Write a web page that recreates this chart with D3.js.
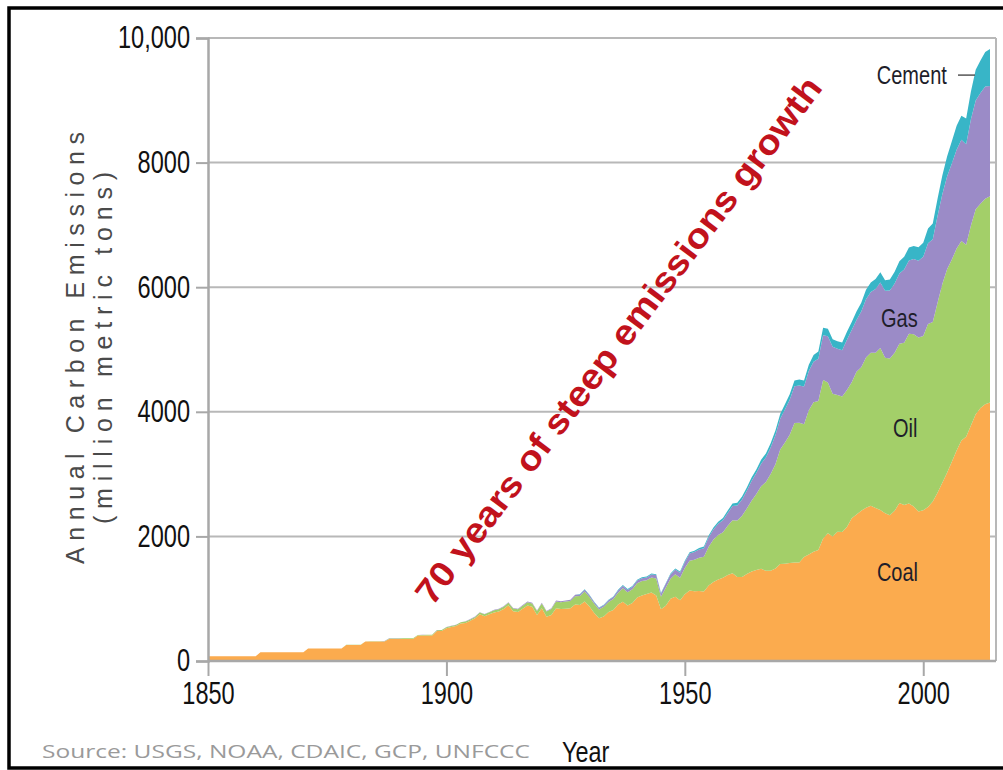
<!DOCTYPE html>
<html>
<head>
<meta charset="utf-8">
<script src="https://cdn.jsdelivr.net/npm/d3@7"></script>
<style>
  body { margin: 0; background: #fff; }
  svg { display: block; }
</style>
</head>
<body>
<script>
// Annual carbon emissions by fuel, million metric tons, 1850-2014
const years = d3.range(1850, 2015);

const coal = [
  75, 75, 75, 75, 75, 75, 75, 75, 75, 75,
  75, 140, 140, 140, 140, 140, 140, 140, 140, 140,
  140, 200, 200, 200, 200, 200, 200, 200, 200, 258,
  258, 258, 258, 312, 312, 312, 312, 312, 355, 355,
  355, 355, 355, 355, 408, 408, 408, 408, 482, 482,
  525, 545, 560, 600, 610, 645, 685, 750, 720, 750,
  780, 795, 835, 895, 800, 785, 840, 890, 870, 740,
  845, 710, 740, 845, 835, 840, 845, 905, 900, 955,
  875, 770, 685, 715, 785, 820, 905, 950, 890, 930,
  1020, 1050, 1075, 1100, 1050, 830, 885, 1000, 1030, 975,
  1070, 1130, 1120, 1125, 1115, 1210, 1270, 1310, 1335, 1380,
  1410, 1350, 1350, 1395, 1435, 1460, 1480, 1450, 1450, 1485,
  1555, 1560, 1575, 1580, 1580, 1670, 1710, 1755, 1780, 1965,
  2050, 2000, 2075, 2070, 2150, 2290, 2350, 2410, 2460, 2490,
  2455, 2425, 2370, 2340, 2410, 2535, 2505, 2530, 2480, 2400,
  2420, 2470, 2560, 2700, 2860, 3020, 3200, 3380, 3540, 3600,
  3780, 3960, 4060, 4120, 4150
];

const oil = [
  0, 0, 0, 0, 0, 0, 0, 0, 0, 0,
  0, 0, 0, 0, 0, 0, 0, 0, 0, 0,
  1, 1, 1, 1, 1, 1, 1, 2, 2, 3,
  3, 4, 4, 3, 4, 4, 5, 5, 5, 6,
  8, 9, 9, 10, 9, 11, 12, 13, 13, 14,
  16, 18, 19, 20, 23, 23, 23, 28, 30, 32,
  34, 36, 37, 41, 42, 45, 48, 54, 53, 61,
  78, 84, 94, 111, 110, 116, 119, 136, 143, 160,
  152, 147, 141, 154, 162, 176, 192, 219, 214, 222,
  229, 236, 222, 239, 275, 200, 292, 322, 364, 362,
  423, 479, 504, 533, 557, 625, 679, 714, 731, 789,
  849, 904, 980, 1052, 1137, 1219, 1323, 1423, 1551, 1673,
  1839, 1947, 2057, 2241, 2245, 2132, 2314, 2398, 2392, 2544,
  2422, 2289, 2196, 2176, 2199, 2186, 2293, 2306, 2412, 2459,
  2492, 2601, 2499, 2515, 2539, 2558, 2604, 2723, 2763, 2792,
  2798, 2940, 2880, 3050, 3190, 3270, 3245, 3240, 3200, 3080,
  3210, 3290, 3280, 3300, 3310
];

const gas = [
  0, 0, 0, 0, 0, 0, 0, 0, 0, 0,
  0, 0, 0, 0, 0, 0, 0, 0, 0, 0,
  0, 0, 0, 0, 0, 0, 0, 0, 0, 0,
  0, 0, 0, 0, 0, 1, 2, 3, 5, 3,
  3, 2, 2, 2, 2, 2, 2, 2, 2, 3,
  3, 4, 4, 4, 4, 5, 5, 5, 5, 6,
  7, 7, 8, 8, 8, 9, 10, 11, 10, 10,
  11, 10, 11, 14, 16, 17, 19, 21, 23, 28,
  28, 25, 24, 25, 28, 30, 34, 38, 37, 38,
  42, 42, 45, 50, 54, 50, 61, 67, 76, 81,
  97, 115, 124, 131, 138, 150, 161, 178, 192, 206,
  227, 240, 263, 286, 316, 337, 364, 392, 424, 467,
  493, 530, 560, 588, 597, 604, 630, 650, 680, 721,
  740, 756, 740, 741, 808, 836, 830, 893, 936, 972,
  1026, 1051, 1075, 1094, 1112, 1127, 1176, 1177, 1209, 1232,
  1269, 1294, 1329, 1393, 1443, 1487, 1540, 1588, 1625, 1616,
  1704, 1748, 1779, 1800, 1770
];

const cement = [
  0, 0, 0, 0, 0, 0, 0, 0, 0, 0,
  0, 0, 0, 0, 0, 0, 0, 0, 0, 0,
  0, 0, 0, 0, 0, 0, 0, 0, 0, 0,
  0, 0, 0, 0, 0, 0, 0, 0, 0, 0,
  0, 0, 0, 0, 0, 0, 0, 0, 0, 0,
  0, 0, 0, 0, 0, 0, 0, 0, 0, 0,
  0, 0, 0, 0, 0, 0, 0, 0, 0, 0,
  0, 0, 0, 0, 0, 0, 0, 0, 10, 10,
  10, 9, 8, 9, 10, 11, 13, 14, 14, 15,
  15, 16, 15, 14, 12, 10, 12, 14, 16, 17,
  18, 20, 22, 24, 27, 30, 32, 34, 36, 40,
  43, 45, 49, 51, 57, 59, 63, 65, 70, 74,
  78, 84, 89, 95, 96, 95, 103, 108, 116, 119,
  120, 121, 121, 125, 128, 131, 137, 143, 152, 156,
  157, 161, 167, 176, 186, 197, 203, 209, 209, 217,
  226, 237, 252, 276, 298, 320, 356, 382, 388, 413,
  446, 494, 519, 554, 595
];

const fuels = ['Coal', 'Oil', 'Gas', 'Cement'];
const fuelColors = ['#FBAB4E', '#A3CF69', '#9B8BC7', '#38B5C7'];
const yTicks = [0, 2000, 4000, 6000, 8000, 10000];
const xTicks = [1850, 1900, 1950, 2000];

const width = 1003;
const height = 770;
const sans = '"Liberation Sans", Arial, sans-serif';

// squeeze a text horizontally, like a narrow font
function narrow(sel, k) {
  sel.each(function () {
    const w = this.getComputedTextLength();
    d3.select(this)
      .attr('textLength', w * k)
      .attr('lengthAdjust', 'spacingAndGlyphs');
  });
}

const svg = d3.select('body')
  .append('svg')
  .attr('width', width)
  .attr('height', height);

// Outer frame
svg.append('rect')
  .attr('x', 9)
  .attr('y', 8)
  .attr('width', 1010)
  .attr('height', 760)
  .attr('fill', 'none')
  .attr('stroke', '#000')
  .attr('stroke-width', 3.5);

const x = d3.scaleLinear().domain([1850, 2014]).range([208, 990]);
const y = d3.scaleLinear().domain([0, 10000]).range([661, 38]);

// Gridlines
svg.append('g')
  .selectAll('line')
  .data(yTicks.filter(d => d > 0))
  .join('line')
  .attr('x1', x(1850))
  .attr('x2', 996)
  .attr('y1', d => y(d))
  .attr('y2', d => y(d))
  .attr('stroke', '#b8b8b8')
  .attr('stroke-width', 2);

// Right edge of plot
svg.append('line')
  .attr('x1', 996).attr('x2', 996)
  .attr('y1', y(10000)).attr('y2', y(0))
  .attr('stroke', '#b8b8b8')
  .attr('stroke-width', 2);

// Stacked areas
const rows = years.map((yr, i) => ({
  year: yr, Coal: coal[i], Oil: oil[i], Gas: gas[i], Cement: cement[i]
}));
const series = d3.stack().keys(fuels)(rows);

const area = d3.area()
  .x(d => x(d.data.year))
  .y0(d => y(d[0]))
  .y1(d => y(d[1]));

svg.append('g')
  .selectAll('path')
  .data(series)
  .join('path')
  .attr('d', area)
  .attr('fill', (d, i) => fuelColors[i]);

// Y axis
const yAxis = svg.append('g')
  .attr('transform', `translate(${x(1850)},0)`)
  .call(d3.axisLeft(y)
    .tickValues(yTicks)
    .tickSize(12)
    .tickPadding(6)
    .tickFormat(d => d === 10000 ? '10,000' : d));

// X axis
const xAxis = svg.append('g')
  .attr('transform', `translate(0,${y(0)})`)
  .call(d3.axisBottom(x)
    .tickValues(xTicks)
    .tickSize(15)
    .tickPadding(4)
    .tickFormat(d3.format('d')));

xAxis.select('.domain').attr('d', `M${x(1850)},0H996`);

[yAxis, xAxis].forEach(ax => {
  ax.select('.domain').attr('stroke', '#a8a8a8').attr('stroke-width', 2.5);
  ax.selectAll('.tick line').attr('stroke', '#a8a8a8').attr('stroke-width', 2);
  ax.selectAll('.tick text')
    .attr('fill', '#111')
    .style('font-family', sans)
    .style('font-size', '31px')
    .call(narrow, 0.76);
});

xAxis.selectAll('.tick text').attr('dy', '0.76em');

// Y axis title
const yTitle = svg.append('g')
  .attr('transform', 'translate(84,348) rotate(-90)')
  .attr('fill', '#4a4a4a')
  .style('font-family', sans)
  .style('font-size', '25px');

yTitle.append('text')
  .attr('text-anchor', 'middle')
  .attr('textLength', 432)
  .attr('lengthAdjust', 'spacing')
  .text('Annual Carbon Emissions');

yTitle.append('text')
  .attr('y', 28)
  .attr('text-anchor', 'middle')
  .attr('textLength', 352)
  .attr('lengthAdjust', 'spacing')
  .text('(million metric tons)');

// Fuel labels
const fuelLabels = [
  { name: 'Cement', year: 1997.6, value: 9260 },
  { name: 'Gas', year: 1995, value: 5360 },
  { name: 'Oil', year: 1996.2, value: 3600 },
  { name: 'Coal', year: 1994.6, value: 1290 }
];

svg.append('g')
  .selectAll('text')
  .data(fuelLabels)
  .join('text')
  .attr('x', d => x(d.year))
  .attr('y', d => y(d.value))
  .attr('text-anchor', 'middle')
  .attr('fill', '#1e1e2a')
  .style('font-family', sans)
  .style('font-size', '25px')
  .text(d => d.name)
  .call(narrow, 0.8);

svg.append('line')
  .attr('x1', 958).attr('x2', 975)
  .attr('y1', y(9260) - 9).attr('y2', y(9260) - 9)
  .attr('stroke', '#555')
  .attr('stroke-width', 1.5);

// Annotation
svg.append('text')
  .attr('transform', 'translate(618,340) rotate(-53)')
  .attr('text-anchor', 'middle')
  .attr('dominant-baseline', 'central')
  .attr('textLength', 650)
  .attr('lengthAdjust', 'spacingAndGlyphs')
  .attr('fill', '#C1121C')
  .style('font-family', sans)
  .style('font-weight', 'bold')
  .style('font-size', '35px')
  .text('70 years of steep emissions growth');

// Source and x title
svg.append('text')
  .attr('x', 42)
  .attr('y', 758)
  .attr('textLength', 488)
  .attr('lengthAdjust', 'spacingAndGlyphs')
  .attr('fill', '#9a9a9a')
  .style('font-family', '"Open Sans", sans-serif')
  .style('font-size', '19px')
  .text('Source: USGS, NOAA, CDAIC, GCP, UNFCCC');

svg.append('text')
  .attr('x', 562)
  .attr('y', 762)
  .attr('fill', '#111')
  .style('font-family', sans)
  .style('font-size', '30px')
  .text('Year')
  .call(narrow, 0.78);
</script>
</body>
</html>
